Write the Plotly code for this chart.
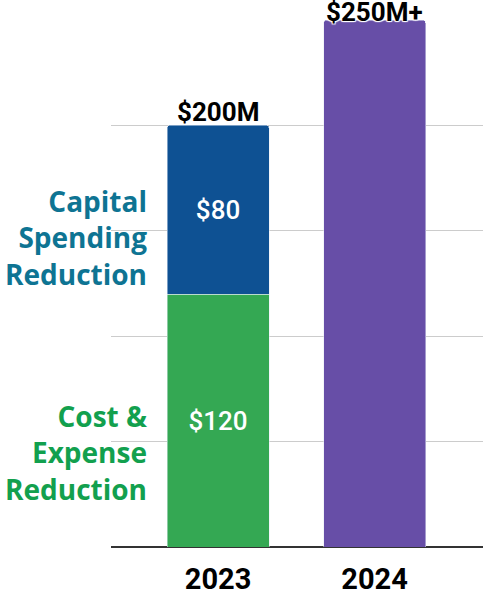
import plotly.graph_objects as go

years = ["2023", "2024"]
cost_expense = [120, None]
capital_spending = [80, None]
total_2024 = [None, 250]
totals = [200, 250]
total_labels = ["$200M", "$250M+"]
segment_labels_ce = ["$120", ""]
segment_labels_cs = ["$80", ""]

x_pos = [0, 1]

fig = go.Figure()
fig.add_trace(go.Bar(x=x_pos, y=cost_expense, marker_color="#34A853", width=0.652,
                     text=segment_labels_ce, textposition="inside", insidetextanchor="middle",
                     textfont=dict(family="Roboto", size=26, color="white", weight=500),
                     showlegend=False, hoverinfo="skip"))
fig.add_trace(go.Bar(x=x_pos, y=capital_spending, marker_color="#0E5193", width=0.652,
                     text=segment_labels_cs, textposition="inside", insidetextanchor="middle",
                     textfont=dict(family="Roboto", size=26, color="white", weight=500),
                     showlegend=False, hoverinfo="skip"))
fig.add_trace(go.Bar(x=x_pos, y=total_2024, marker_color="#674EA7", width=0.652,
                     showlegend=False, hoverinfo="skip"))

for xi, t, lab in zip(x_pos, totals, total_labels):
    fig.add_annotation(x=xi, y=t, text=lab, showarrow=False, yanchor="bottom",
                       yshift=(-4 if t == 200 else -9),
                       font=dict(family="Roboto", size=26, color="black", weight="bold",
                                 shadow="1px 1px 1px white, -1px -1px 1px white, 1px -1px 1px white, -1px 1px 1px white"))

lab_x = (149 - 111) / 372
fig.add_annotation(xref="paper", yref="y", x=lab_x, y=147, xanchor="right", yanchor="middle",
                   text="Capital<br>Spending<br>Reduction", showarrow=False, align="right",
                   font=dict(family="Open Sans", size=28, color="#0E7493", weight="bold"))
fig.add_annotation(xref="paper", yref="y", x=lab_x, y=45, xanchor="right", yanchor="middle",
                   text="Cost &<br>Expense<br>Reduction", showarrow=False, align="right",
                   font=dict(family="Open Sans", size=28, color="#12A04E", weight="bold"))

fig.update_layout(
    width=485, height=595,
    margin=dict(l=111, r=2, t=20, b=48, autoexpand=False),
    barmode="stack",
    barcornerradius=3,
    plot_bgcolor="white", paper_bgcolor="white",
    xaxis=dict(range=[-0.684, 1.693], tickvals=x_pos, ticktext=years, showgrid=False,
               zeroline=False, showline=False, ticks="", ticklabelstandoff=12, automargin=False,
               tickfont=dict(family="Roboto", size=29, color="black", weight="bold")),
    yaxis=dict(range=[0, 250], dtick=50, showticklabels=False, showgrid=True, automargin=False,
               gridcolor="#CCCCCC", gridwidth=1, zeroline=True, zerolinecolor="#333333",
               zerolinewidth=1.5, showline=False),
)

fig.write_html("out.html", config={"displayModeBar": False},
               post_script="document.body.style.margin='0';document.body.style.overflow='hidden';")
